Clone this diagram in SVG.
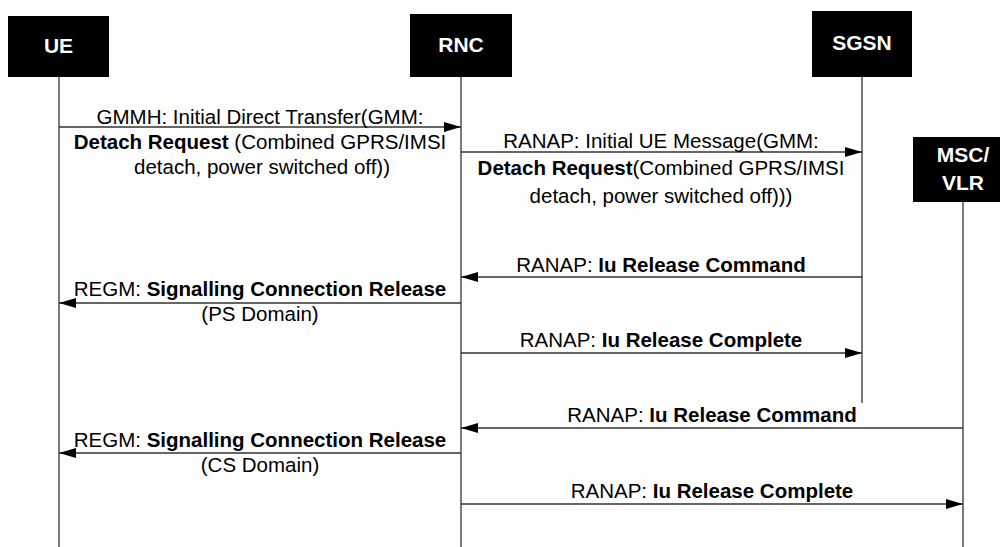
<svg xmlns="http://www.w3.org/2000/svg" width="1003" height="547" viewBox="0 0 1003 547">
<style>
.box{fill:#000}
.bl{font-family:"Liberation Sans",Arial,sans-serif;font-weight:bold;font-size:21px;fill:#fff;text-anchor:middle}
.life{stroke:#333;stroke-width:1.3;fill:none}
.msg{stroke:#333;stroke-width:1.3;fill:none;marker-end:url(#ah)}
.t{font-family:"Liberation Sans",Arial,sans-serif;font-size:20.5px;fill:#000;text-anchor:middle}
.b{font-weight:bold}
</style>
<defs>
<marker id="ah" markerUnits="userSpaceOnUse" markerWidth="18" markerHeight="10" refX="17" refY="5" orient="auto">
<path d="M0,0 L17,5 L0,10 z" fill="#000"/>
</marker>
</defs>
<rect width="1003" height="547" fill="#fff"/>
<g id="lifelines">
<line class="life" x1="59" y1="77" x2="59" y2="547"/>
<line class="life" x1="461" y1="77" x2="461" y2="547"/>
<line class="life" x1="862" y1="77" x2="862" y2="403"/>
<line class="life" x1="963" y1="202" x2="963" y2="547"/>
</g>
<g id="UE"><rect class="box" x="8" y="16" width="101" height="61"/><text class="bl" x="58.5" y="53">UE</text></g>
<g id="RNC"><rect class="box" x="410" y="14" width="102" height="63"/><text class="bl" x="461" y="52">RNC</text></g>
<g id="SGSN"><rect class="box" x="812" y="11" width="100" height="66"/><text class="bl" x="862" y="50">SGSN</text></g>
<g id="MSCVLR"><rect class="box" x="913" y="137" width="87" height="65"/><text class="bl" x="963" y="162">MSC/</text><text class="bl" x="963" y="190">VLR</text></g>
<g id="connectors">
<line class="msg" x1="59" y1="127" x2="461" y2="127"/>
<line class="msg" x1="461" y1="152" x2="862" y2="152"/>
<line class="msg" x1="862" y1="277" x2="461" y2="277"/>
<line class="msg" x1="461" y1="303" x2="59" y2="303"/>
<line class="msg" x1="461" y1="353" x2="862" y2="353"/>
<line class="msg" x1="963" y1="428" x2="461" y2="428"/>
<line class="msg" x1="461" y1="453" x2="59" y2="453"/>
<line class="msg" x1="461" y1="504" x2="963" y2="504"/>
</g>
<g id="labels">
<text class="t" x="260" y="124">GMMH: Initial Direct Transfer(GMM:</text>
<text class="t" x="260" y="148.5"><tspan class="b">Detach Request</tspan> (Combined GPRS/IMSI</text>
<text class="t" x="262" y="174">detach, power switched off))</text>
<text class="t" x="661" y="148">RANAP: Initial UE Message(GMM:</text>
<text class="t" x="661" y="175"><tspan class="b">Detach Request</tspan>(Combined GPRS/IMSI</text>
<text class="t" x="661" y="203">detach, power switched off)))</text>
<text class="t" x="661" y="272">RANAP: <tspan class="b">Iu Release Command</tspan></text>
<text class="t" x="260" y="296">REGM: <tspan class="b">Signalling Connection Release</tspan></text>
<text class="t" x="260" y="321">(PS Domain)</text>
<text class="t" x="661" y="347">RANAP: <tspan class="b">Iu Release Complete</tspan></text>
<text class="t" x="712" y="422">RANAP: <tspan class="b">Iu Release Command</tspan></text>
<text class="t" x="260" y="447">REGM: <tspan class="b">Signalling Connection Release</tspan></text>
<text class="t" x="260" y="472">(CS Domain)</text>
<text class="t" x="712" y="498">RANAP: <tspan class="b">Iu Release Complete</tspan></text>
</g>
</svg>
